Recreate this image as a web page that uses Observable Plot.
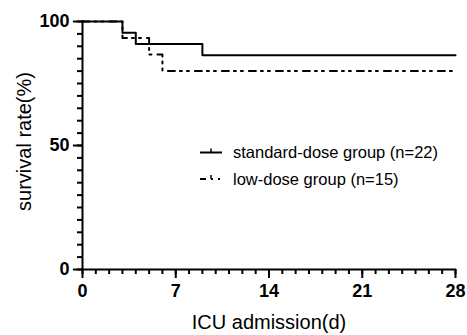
<!DOCTYPE html>
<html>
<head>
<meta charset="utf-8">
<script src="https://cdn.jsdelivr.net/npm/d3@7"></script>
<script src="https://cdn.jsdelivr.net/npm/@observablehq/plot@0.6"></script>
<style>
  html, body { margin: 0; padding: 0; background: #fff; }
  #chart { width: 467px; height: 335px; }
</style>
</head>
<body>
<div id="chart"></div>
<script>
// ---- data ----
const seriesNames = ["standard-dose group (n=22)", "low-dose group (n=15)"];
const standardDays = [0, 3, 4, 9, 28];
const standardSurvival = [100, 95.45, 90.91, 86.36, 86.36];
const lowDays = [0, 3, 5, 6, 28];
const lowSurvival = [100, 93.33, 86.67, 80, 80];
const xMajorTicks = [0, 7, 14, 21, 28];
const xMinorTicks = d3.range(0, 29, 1);
const yMajorTicks = [0, 50, 100];
const yMinorTicks = d3.range(0, 101, 5);
const xTitle = "ICU admission(d)";
const yTitle = "survival rate(%)";

const standard = standardDays.map((d, i) => ({day: d, surv: standardSurvival[i]}));
const low = lowDays.map((d, i) => ({day: d, surv: lowSurvival[i]}));

const font = "Liberation Sans, Arial, Helvetica, sans-serif";
const lowDash = "7,5,2,5,2,6";

function legendMark(index, scales, values, dims) {
  const g = d3.create("svg:g");
  const x0 = 200, x1 = 222, tx = 233;
  const ys = [152.5, 179];
  // standard
  g.append("line").attr("x1", x0).attr("x2", x1).attr("y1", ys[0]).attr("y2", ys[0])
    .attr("stroke", "#000").attr("stroke-width", 2);
  g.append("line").attr("x1", 211).attr("x2", 211).attr("y1", ys[0]).attr("y2", ys[0] - 4)
    .attr("stroke", "#000").attr("stroke-width", 1.5);
  // low
  g.append("line").attr("x1", x0).attr("x2", x1).attr("y1", ys[1]).attr("y2", ys[1])
    .attr("stroke", "#000").attr("stroke-width", 2).attr("stroke-dasharray", "6,5,2,5,2,6");
  g.append("line").attr("x1", 211).attr("x2", 211).attr("y1", ys[1]).attr("y2", ys[1] - 4)
    .attr("stroke", "#000").attr("stroke-width", 1.5);
  seriesNames.forEach((name, i) => {
    g.append("text").attr("x", tx).attr("y", ys[i]).attr("dy", "0.35em")
      .attr("text-anchor", "start")
      .attr("font-family", font).attr("font-size", 16.5).attr("fill", "#000").text(name);
  });
  return g.node();
}

const chart = Plot.plot({
  width: 467,
  height: 335,
  marginLeft: 82,
  marginRight: 12,
  marginTop: 21,
  marginBottom: 66,
  style: {fontFamily: font, background: "#fff", overflow: "visible", color: "#000"},
  x: {domain: [0, 28]},
  y: {domain: [0, 100]},
  marks: [
    // minor ticks
    Plot.axisX({ticks: xMinorTicks, tickSize: 5, text: null, label: null, strokeWidth: 2}),
    Plot.axisY({ticks: yMinorTicks, tickSize: 5, text: null, label: null, strokeWidth: 2}),
    // major ticks + labels
    Plot.axisX({ticks: xMajorTicks, tickSize: 9, tickPadding: 6, label: null, strokeWidth: 2,
      fontSize: 18, fontWeight: "bold", fill: "#000", tickFormat: d => String(d)}),
    Plot.axisY({ticks: yMajorTicks, tickSize: 9, tickPadding: 4, label: null, strokeWidth: 2,
      fontSize: 18, fontWeight: "bold", fill: "#000", tickFormat: d => String(d)}),
    // axis lines
    Plot.ruleX([0], {strokeWidth: 2, strokeLinecap: "square"}),
    Plot.ruleY([0], {strokeWidth: 2, strokeLinecap: "square"}),
    // survival curves
    Plot.line(standard, {x: "day", y: "surv", curve: "step-after", stroke: "#000", strokeWidth: 2}),
    Plot.line(low, {x: "day", y: "surv", curve: "step-after", stroke: "#000", strokeWidth: 2,
      strokeDasharray: lowDash}),
    // axis titles
    Plot.text([xTitle], {text: d => d, frameAnchor: "bottom", dy: 53, lineAnchor: "middle",
      textAnchor: "middle", fontSize: 20, fill: "#000"}),
    Plot.text([yTitle], {text: d => d, frameAnchor: "left", dx: -58, dy: -4, rotate: -90,
      lineAnchor: "middle", textAnchor: "middle", fontSize: 20, fill: "#000"}),
    legendMark
  ]
});
document.getElementById("chart").appendChild(chart);
</script>
</body>
</html>
